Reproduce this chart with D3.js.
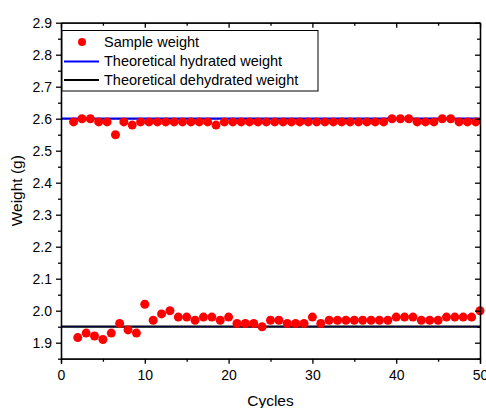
<html>
<head>
<script src="https://d3js.org/d3.v7.min.js"></script>
<style>
  body {margin: 0; background: white;}
  svg {font-family: "Liberation Sans", Arial, sans-serif;}
  .axis path, .axis line {stroke: black; stroke-width: 1.3;}
  .axis text {font-size: 14px; fill: black;}
</style>
</head>
<body>
<svg id="chart" width="486" height="408"></svg>
<script>
// sample weight, upper (hydrated) readings at half cycles
var upperCycles = d3.range(1.5, 50, 1);
var upperWeight = [2.59, 2.60, 2.60, 2.59, 2.59, 2.55, 2.59, 2.58, 2.59, 2.59,
                   2.59, 2.59, 2.59, 2.59, 2.59, 2.59, 2.59, 2.58, 2.59, 2.59,
                   2.59, 2.59, 2.59, 2.59, 2.59, 2.59, 2.59, 2.59, 2.59, 2.59,
                   2.59, 2.59, 2.59, 2.59, 2.59, 2.59, 2.59, 2.59, 2.60, 2.60,
                   2.60, 2.59, 2.59, 2.59, 2.60, 2.60, 2.59, 2.59, 2.59];
// lower (dehydrated) readings at whole cycles
var lowerCycles = d3.range(2, 51, 1);
var lowerWeight = [1.916, 1.93, 1.921, 1.91, 1.93, 1.96, 1.94, 1.93, 2.02, 1.97,
                   1.99, 2.00, 1.98, 1.98, 1.97, 1.98, 1.98, 1.97, 1.98, 1.96,
                   1.96, 1.96, 1.95, 1.97, 1.97, 1.96, 1.96, 1.96, 1.98, 1.96,
                   1.97, 1.97, 1.97, 1.97, 1.97, 1.97, 1.97, 1.97, 1.98, 1.98,
                   1.98, 1.97, 1.97, 1.97, 1.98, 1.98, 1.98, 1.98, 2.00];
var hydrated = 2.6;
var dehydrated = 1.95;
var xTicks = [0, 10, 20, 30, 40, 50];
var yTicks = [1.9, 2.0, 2.1, 2.2, 2.3, 2.4, 2.5, 2.6, 2.7, 2.8, 2.9];
var legendLabels = ["Sample weight", "Theoretical hydrated weight", "Theoretical dehydrated weight"];

var pLeft = 61, pRight = 480, pTop = 22.7, pBottom = 358.7;
var svg = d3.select("#chart");

var x = d3.scaleLinear().domain([0, 50]).range([pLeft, pRight]);
var y = d3.scaleLinear().domain([1.85, 2.9]).range([pBottom, pTop]);

var xMinor = d3.range(5, 50, 10);
var yMinor = d3.range(1.85, 2.9, 0.1).map(function(d) { return +d.toFixed(2); });

// theoretical lines
function refLine(v, colour) {
  svg.append("line")
    .attr("x1", x(0)).attr("x2", x(50))
    .attr("y1", y(v)).attr("y2", y(v))
    .attr("stroke", colour).attr("stroke-width", 2.2);
  svg.append("line")
    .attr("x1", x(0)).attr("x2", x(50))
    .attr("y1", y(v)).attr("y2", y(v))
    .attr("stroke", "#000080").attr("stroke-width", 1).attr("stroke-dasharray", "2,2");
}
refLine(hydrated, "#0000ff");
refLine(dehydrated, "black");

// points
svg.append("g").selectAll("circle")
  .data(upperCycles.map(function(c, i) { return [c, upperWeight[i]]; }))
  .enter().append("circle")
  .attr("cx", function(d) { return x(d[0]); })
  .attr("cy", function(d) { return y(d[1]); })
  .attr("r", 4.5).attr("fill", "#ff0000");
svg.append("g").selectAll("circle")
  .data(lowerCycles.map(function(c, i) { return [c, lowerWeight[i]]; }))
  .enter().append("circle")
  .attr("cx", function(d) { return x(d[0]); })
  .attr("cy", function(d) { return y(d[1]); })
  .attr("r", 4.5).attr("fill", "#ff0000");

// axes: bottom/left outward with labels, top/right inward
function noLabel(a) { return a.tickFormat(""); }
svg.append("g").attr("class", "axis").attr("transform", "translate(0," + pBottom + ")")
  .call(d3.axisBottom(x).tickValues(xTicks).tickSize(5).tickPadding(6).tickFormat(d3.format("d")));
svg.append("g").attr("class", "axis").attr("transform", "translate(0," + pBottom + ")")
  .call(noLabel(d3.axisBottom(x).tickValues(xMinor).tickSize(3).tickSizeOuter(0)));
svg.append("g").attr("class", "axis").attr("transform", "translate(" + pLeft + ",0)")
  .call(d3.axisLeft(y).tickValues(yTicks).tickSize(5).tickPadding(4).tickSizeOuter(0).tickFormat(d3.format(".1f")));
svg.append("g").attr("class", "axis").attr("transform", "translate(" + pLeft + ",0)")
  .call(noLabel(d3.axisLeft(y).tickValues(yMinor).tickSize(3).tickSizeOuter(0)));
svg.append("g").attr("class", "axis").attr("transform", "translate(0," + pTop + ")")
  .call(noLabel(d3.axisTop(x).tickValues(xTicks).tickSize(-5).tickSizeOuter(0)));
svg.append("g").attr("class", "axis").attr("transform", "translate(0," + pTop + ")")
  .call(noLabel(d3.axisTop(x).tickValues(xMinor).tickSize(-3).tickSizeOuter(0)));
svg.append("g").attr("class", "axis").attr("transform", "translate(" + pRight + ",0)")
  .call(noLabel(d3.axisRight(y).tickValues(yTicks).tickSize(-5).tickSizeOuter(0)));
svg.append("g").attr("class", "axis").attr("transform", "translate(" + pRight + ",0)")
  .call(noLabel(d3.axisRight(y).tickValues(yMinor).tickSize(-3).tickSizeOuter(0)));

// axis titles
svg.append("text")
  .attr("x", (pLeft + pRight) / 2).attr("y", 406)
  .attr("text-anchor", "middle").style("font-size", "15.5px")
  .text("Cycles");
svg.append("text")
  .attr("transform", "translate(22," + (pTop + pBottom) / 2 + ") rotate(-90)")
  .attr("text-anchor", "middle").style("font-size", "15.5px")
  .text("Weight (g)");

// legend
var lg = svg.append("g");
lg.append("rect")
  .attr("x", 62).attr("y", 30.5).attr("width", 256).attr("height", 60.5)
  .attr("fill", "white").attr("stroke", "black").attr("stroke-width", 1);
lg.append("circle").attr("cx", 82).attr("cy", 42).attr("r", 4).attr("fill", "#ff0000");
lg.append("line").attr("x1", 64).attr("x2", 99).attr("y1", 61.5).attr("y2", 61.5)
  .attr("stroke", "#0000ff").attr("stroke-width", 2.2);
lg.append("line").attr("x1", 64).attr("x2", 99).attr("y1", 80).attr("y2", 80)
  .attr("stroke", "black").attr("stroke-width", 2.2);
lg.selectAll("text.lab")
  .data(legendLabels)
  .enter().append("text")
  .attr("class", "lab")
  .attr("x", 104)
  .attr("y", function(d, i) { return 47 + i * 19; })
  .style("font-size", "14.5px")
  .text(function(d) { return d; });
</script>
</body>
</html>
